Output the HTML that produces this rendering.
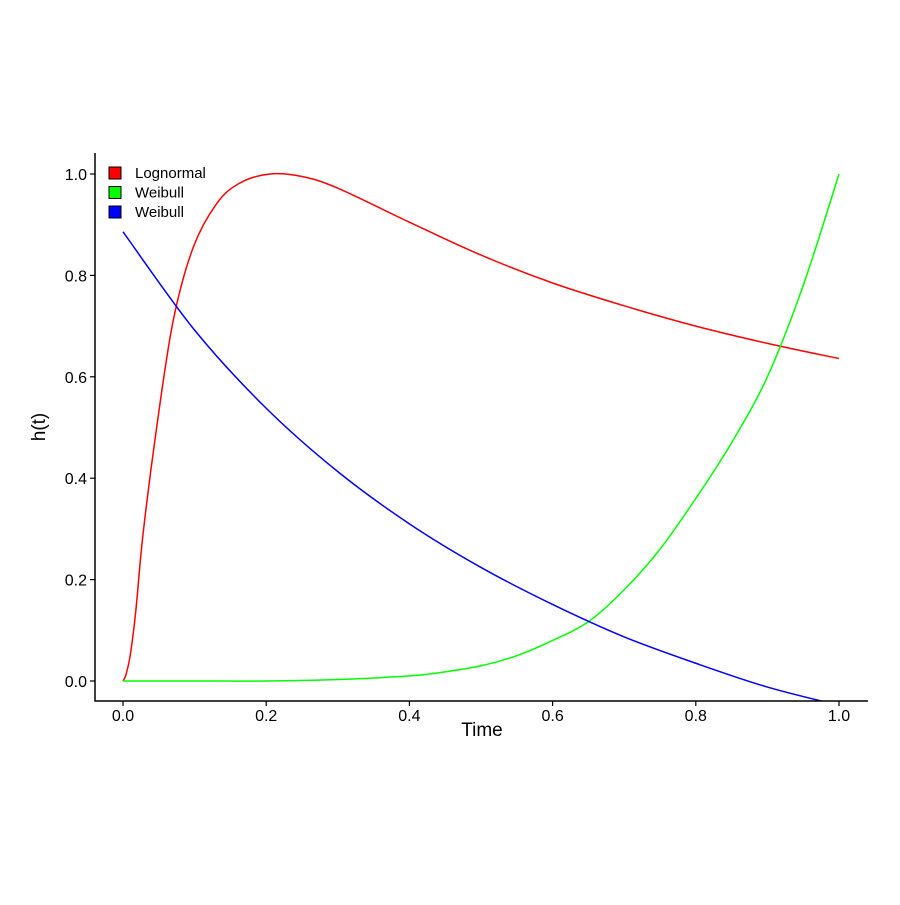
<!DOCTYPE html>
<html><head><meta charset="utf-8"><style>
body{margin:0;background:#fff}
svg text{font-family:"Liberation Sans",sans-serif}
</style></head><body>
<svg id="chart" width="900" height="900">
<defs><clipPath id="panel"><rect x="95" y="150" width="773" height="551"/></clipPath></defs>
<g id="plot" clip-path="url(#panel)"></g>
<g id="axes"></g>
</svg>
<script>
const xTicks=[0,0.2,0.4,0.6,0.8,1.0];
const xTickLabels=["0.0","0.2","0.4","0.6","0.8","1.0"];
const yTicks=[0,0.2,0.4,0.6,0.8,1.0];
const yTickLabels=["0.0","0.2","0.4","0.6","0.8","1.0"];
const lognormT=[0,0.004,0.01,0.018,0.028,0.047,0.07,0.098,0.131,0.163,0.205,0.25,0.3,0.4,0.5,0.6,0.7,0.8,0.9,1.0];
const lognormV=[0,0.012,0.05,0.14,0.29,0.50,0.71,0.855,0.942,0.982,1.0,0.995,0.972,0.905,0.84,0.785,0.74,0.70,0.666,0.636];
const weib1T=[0,0.1,0.2,0.3,0.4,0.45,0.5,0.55,0.6,0.65,0.7,0.75,0.8,0.85,0.9,0.95,1.0];
const weib1V=[0,0,0,0.003,0.01,0.018,0.03,0.05,0.08,0.117,0.18,0.26,0.36,0.47,0.60,0.78,1.0];
const weib2T=[0,0.1,0.2,0.3,0.4,0.5,0.6,0.7,0.8,0.9,1.0];
const weib2V=[0.886,0.692,0.538,0.413,0.31,0.224,0.151,0.087,0.035,-0.012,-0.048];
const seriesNames=["Lognormal","Weibull","Weibull"];
const seriesColors=["#ff0000","#00ff00","#0000ff"];
const NS="http://www.w3.org/2000/svg";
const xs=t=>123+t*716, ys=v=>681-v*507;
function mk(tag,attrs,parent){const e=document.createElementNS(NS,tag);for(const k in attrs)e.setAttribute(k,attrs[k]);parent.appendChild(e);return e;}
function pathOf(T,V){const p=T.map((t,i)=>[xs(t),ys(V[i])]);let d="M"+p[0][0]+","+p[0][1];
for(let i=0;i<p.length-1;i++){const p0=p[Math.max(0,i-1)],p1=p[i],p2=p[i+1],p3=p[Math.min(p.length-1,i+2)];
const c1=[p1[0]+(p2[0]-p0[0])/6,p1[1]+(p2[1]-p0[1])/6],c2=[p2[0]-(p3[0]-p1[0])/6,p2[1]-(p3[1]-p1[1])/6];
d+=` C${c1[0]},${c1[1]} ${c2[0]},${c2[1]} ${p2[0]},${p2[1]}`;}return d;}
const plot=document.getElementById('plot'),axes=document.getElementById('axes');
const data=[[lognormT,lognormV],[weib1T,weib1V],[weib2T,weib2V]];
const lineNames=['lognormal-line','weibull-green-line','weibull-blue-line'];
data.forEach((s,i)=>{const e=mk('path',{d:pathOf(s[0],s[1]),fill:'none',stroke:seriesColors[i],'stroke-width':1.5},plot);

});
let e=mk('line',{x1:95,y1:153,x2:95,y2:701.5,stroke:'#000','stroke-width':1.5},axes);


e=mk('line',{x1:94.5,y1:701,x2:868,y2:701,stroke:'#000','stroke-width':1.5},axes);


xTicks.forEach((t,i)=>{mk('line',{x1:xs(t),x2:xs(t),y1:701,y2:706,stroke:'#000','stroke-width':1.2},axes);
const tx=mk('text',{x:xs(t),y:721,'font-size':16,'text-anchor':'middle',fill:'#000'},axes);tx.textContent=xTickLabels[i];

});
yTicks.forEach((v,i)=>{mk('line',{x1:90,x2:95,y1:ys(v),y2:ys(v),stroke:'#000','stroke-width':1.2},axes);
const tx=mk('text',{x:87,y:ys(v)+6,'font-size':16,'text-anchor':'end',fill:'#000'},axes);tx.textContent=yTickLabels[i];

});
e=mk('text',{x:482,y:736,'font-size':19,'text-anchor':'middle'},axes);e.textContent='Time';


e=mk('text',{x:45,y:427,'font-size':19,'text-anchor':'middle',transform:'rotate(-90 45 427)'},axes);e.textContent='h(t)';


seriesNames.forEach((n,i)=>{const y=167+i*19.5;
const r=mk('rect',{x:109,y:y,width:12,height:12,fill:seriesColors[i],stroke:'#000','stroke-width':1},axes);


const t=mk('text',{x:135,y:y+11,'font-size':15},axes);t.textContent=n;

});
</script>
</body></html>
